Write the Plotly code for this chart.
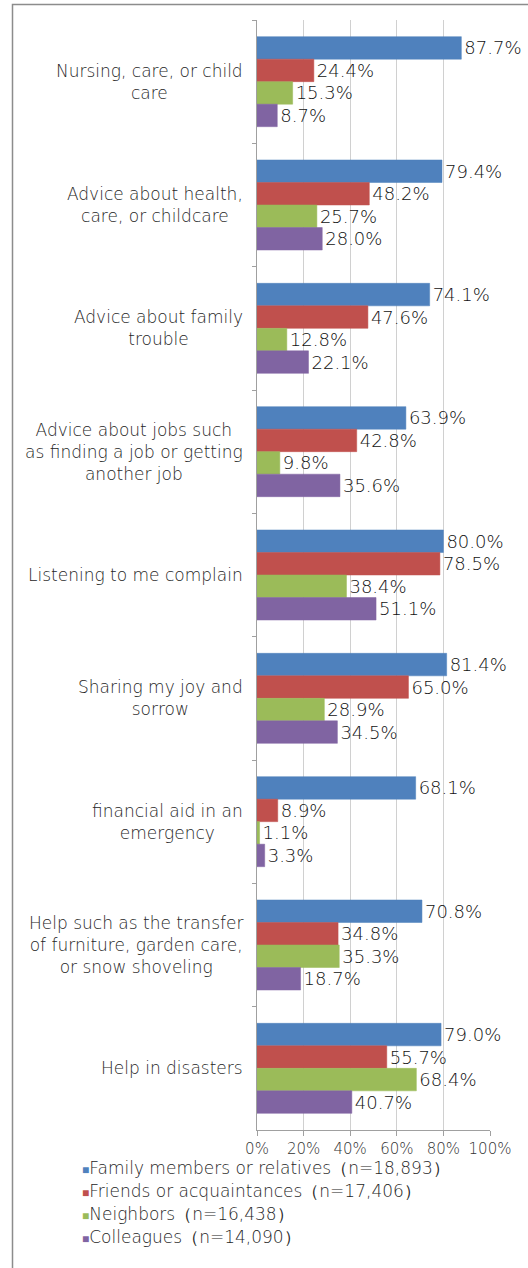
import plotly.graph_objects as go

categories = [
    "Nursing, care, or child<br>care",
    "Advice about health,<br>care, or childcare",
    "Advice about family<br>trouble",
    "Advice about jobs such<br>as finding a job or getting<br>another job",
    "Listening to me complain",
    "Sharing my joy and<br>sorrow",
    "financial aid in an<br>emergency",
    "Help such as the transfer<br>of furniture, garden care,<br>or snow shoveling",
    "Help in disasters",
]

family = [87.7, 79.4, 74.1, 63.9, 80.0, 81.4, 68.1, 70.8, 79.0]
friends = [24.4, 48.2, 47.6, 42.8, 78.5, 65.0, 8.9, 34.8, 55.7]
neighbors = [15.3, 25.7, 12.8, 9.8, 38.4, 28.9, 1.1, 35.3, 68.4]
colleagues = [8.7, 28.0, 22.1, 35.6, 51.1, 34.5, 3.3, 18.7, 40.7]

series_names = [
    "Family members or relatives（n=18,893）",
    "Friends or acquaintances（n=17,406）",
    "Neighbors（n=16,438）",
    "Colleagues（n=14,090）",
]
series_values = [family, friends, neighbors, colleagues]
colors = ["#4F81BD", "#C0504D", "#9BBB59", "#8064A2"]

tick_vals = [0, 20, 40, 60, 80, 100]
tick_text = ["0%", "20%", "40%", "60%", "80%", "100%"]

FONT = "DejaVu Sans"
LIGHT = 200
W, H = 528, 1268
ML, MR, MT, MB = 257, 38, 20, 138
PW, PH = W - ML - MR, H - MT - MB


def px_x(p):
    return (p - ML) / PW


def px_y(p):
    return (H - MB - p) / PH


fig = go.Figure()
for name, vals, col in zip(series_names, series_values, colors):
    fig.add_trace(go.Bar(
        y=categories, x=vals, name=name, orientation="h",
        marker=dict(color=col, line=dict(color=col, width=0.5)),
        text=[f"{v:.1f}%" for v in vals],
        textposition="outside",
        textfont=dict(family=FONT, size=18, color="#111111", weight=LIGHT),
        constraintext="none",
        cliponaxis=False,
        showlegend=False,
    ))

# Category labels: right-aligned block with centred lines
for c in categories:
    fig.add_annotation(
        x=0, xref="paper", y=c, yref="y", text=c, showarrow=False,
        xanchor="right", xshift=-12, align="center",
        font=dict(family=FONT, size=17, color="#262626", weight=LIGHT),
    )

# Legend rows: small coloured square followed by the series name
for i, (name, col) in enumerate(zip(series_names, colors)):
    fig.add_annotation(
        x=px_x(80), xref="paper", y=px_y(1168 + 23 * i), yref="paper",
        xanchor="left", yanchor="middle", showarrow=False, align="left",
        text=f"<span style='color:{col};font-size:12px'>■</span>{name}",
        font=dict(family=FONT, size=17, color="#262626", weight=LIGHT),
    )

# Outer frame
fig.add_shape(type="rect", xref="paper", yref="paper",
              x0=px_x(12.5), x1=px_x(545), y0=px_y(4.5), y1=px_y(1290),
              line=dict(color="#8c8c8c", width=1.5), fillcolor="rgba(0,0,0,0)",
              layer="below")

fig.update_layout(
    width=W, height=H,
    margin=dict(l=ML, r=MR, t=MT, b=MB),
    paper_bgcolor="white", plot_bgcolor="white",
    barmode="group", bargap=0.27, bargroupgap=0.0,
    font=dict(family=FONT, size=15, color="#333333"),
    showlegend=False,
    xaxis=dict(
        range=[0, 100], tickvals=tick_vals, ticktext=tick_text,
        showgrid=True, gridcolor="#d0d0d0", gridwidth=1,
        showline=True, linecolor="#a0a0a0", linewidth=1,
        ticks="outside", ticklen=5, tickcolor="#a0a0a0",
        tickfont=dict(family=FONT, size=15, color="#333333", weight=LIGHT),
        zeroline=False, fixedrange=True,
    ),
    yaxis=dict(
        autorange="reversed", showticklabels=False,
        showline=True, linecolor="#a0a0a0", linewidth=1,
        ticks="outside", ticklen=4, tickcolor="#a0a0a0",
        tickson="boundaries", showgrid=False, fixedrange=True,
    ),
)

fig.write_html("out.html")
